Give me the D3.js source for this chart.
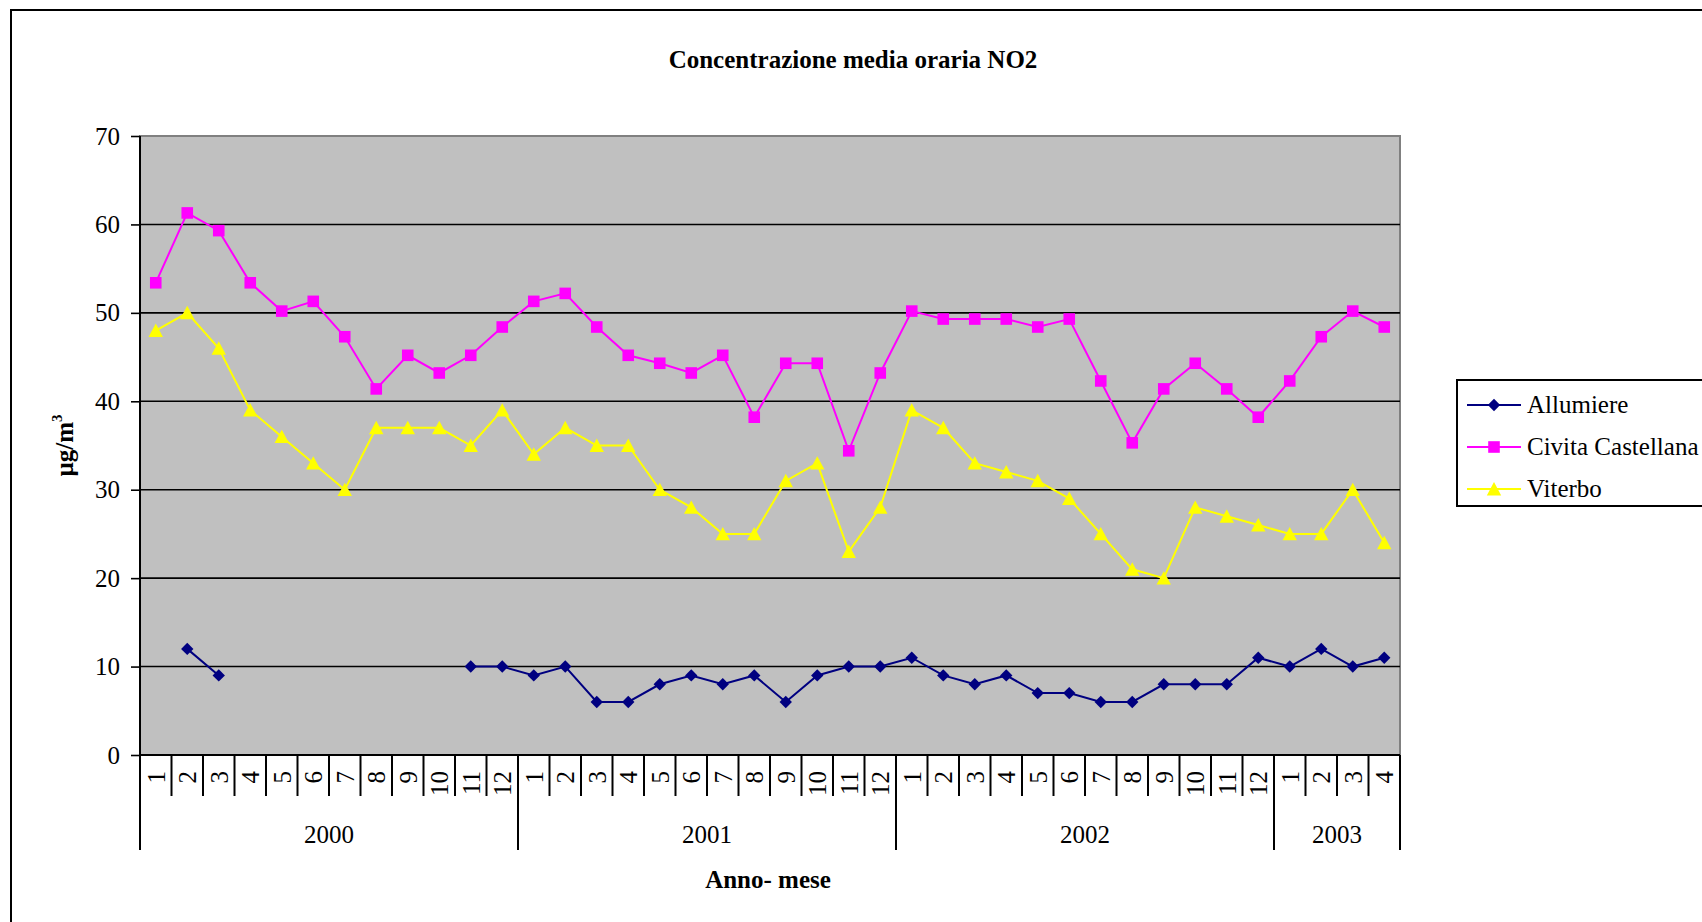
<!DOCTYPE html>
<html>
<head>
<meta charset="utf-8">
<script src="https://cdn.jsdelivr.net/npm/d3@7"></script>
<style>
  html, body { margin: 0; padding: 0; background: #fff; }
  svg { display: block; font-family: "Liberation Serif", "Times New Roman", serif; }
</style>
</head>
<body>
<svg id="chart" width="1702" height="922"></svg>
<script>
// Monthly mean hourly NO2 concentration (µg/m³), Jan 2000 – Apr 2003
const years = ["2000", "2001", "2002", "2003"];
const monthsPerYear = [12, 12, 12, 4];
const yTicks = [0, 10, 20, 30, 40, 50, 60, 70];

const allumiere = [
  null, 12, 9, null, null, null, null, null, null, null, 10, 10,
  9, 10, 6, 6, 8, 9, 8, 9, 6, 9, 10, 10,
  11, 9, 8, 9, 7, 7, 6, 6, 8, 8, 8, 11,
  10, 12, 10, 11
];
const civitaCastellana = [
  53.4, 61.3, 59.3, 53.4, 50.2, 51.3, 47.3, 41.4, 45.2, 43.2, 45.2, 48.4,
  51.3, 52.2, 48.4, 45.2, 44.3, 43.2, 45.2, 38.2, 44.3, 44.3, 34.4, 43.2,
  50.2, 49.3, 49.3, 49.3, 48.4, 49.3, 42.3, 35.3, 41.4, 44.3, 41.4, 38.2,
  42.3, 47.3, 50.2, 48.4
];
const viterbo = [
  48, 50, 46, 39, 36, 33, 30, 37, 37, 37, 35, 39,
  34, 37, 35, 35, 30, 28, 25, 25, 31, 33, 23, 28,
  39, 37, 33, 32, 31, 29, 25, 21, 20, 28, 27, 26,
  25, 25, 30, 24
];

const seriesNames = ["Allumiere", "Civita Castellana", "Viterbo"];
const seriesValues = [allumiere, civitaCastellana, viterbo];
const seriesColors = ["#000080", "#ff00ff", "#ffff00"];
const seriesMarkers = ["diamond", "square", "triangle"];

// category list: one entry per month
const categories = [];
years.forEach((yr, yi) => {
  for (let m = 1; m <= monthsPerYear[yi]; m++) categories.push({ year: yr, month: m });
});

const svg = d3.select("#chart");
const fontSize = 25;

const plot = { left: 140, right: 1400, top: 136, bottom: 755 };

const x = d3.scaleBand()
  .domain(d3.range(categories.length))
  .range([plot.left, plot.right])
  .padding(0);
const y = d3.scaleLinear().domain([0, 70]).range([plot.bottom, plot.top]);

// outer chart frame
svg.append("rect")
  .attr("x", 11).attr("y", 10)
  .attr("width", 1800).attr("height", 1000)
  .attr("fill", "#fff").attr("stroke", "#000").attr("stroke-width", 2);

// title
svg.append("text")
  .attr("x", 853).attr("y", 68)
  .attr("text-anchor", "middle")
  .attr("font-weight", "bold")
  .attr("font-size", fontSize)
  .text("Concentrazione media oraria NO2");

// plot background
svg.append("rect")
  .attr("x", plot.left).attr("y", plot.top)
  .attr("width", plot.right - plot.left).attr("height", plot.bottom - plot.top)
  .attr("fill", "#c0c0c0").attr("stroke", "#808080").attr("stroke-width", 2);

// horizontal gridlines
svg.append("g")
  .selectAll("line")
  .data(yTicks.filter(t => t > 0 && t < 70))
  .join("line")
  .attr("x1", plot.left).attr("x2", plot.right)
  .attr("y1", d => y(d)).attr("y2", d => y(d))
  .attr("stroke", "#000").attr("stroke-width", 1.6);

// y axis
const yAxis = svg.append("g")
  .attr("transform", `translate(${plot.left},0)`)
  .call(d3.axisLeft(y).tickValues(yTicks).tickSize(9).tickPadding(11).tickFormat(d3.format("d")));
yAxis.select(".domain").attr("stroke", "#000").attr("stroke-width", 2)
  .attr("d", `M0,${plot.top}V${plot.bottom}`);
yAxis.selectAll(".tick line").attr("stroke", "#000").attr("stroke-width", 1.6);
yAxis.selectAll(".tick text")
  .attr("font-size", fontSize)
  .attr("font-family", "'Liberation Serif', 'Times New Roman', serif")
  .attr("fill", "#000");

// y axis title
const yTitle = svg.append("text")
  .attr("transform", `translate(73,${(plot.top + plot.bottom) / 2}) rotate(-90)`)
  .attr("text-anchor", "middle")
  .attr("font-weight", "bold")
  .attr("font-size", fontSize);
yTitle.append("tspan").text("µg/m");
yTitle.append("tspan").attr("font-size", 15).attr("dy", -11).text("3");

// x axis line
svg.append("line")
  .attr("x1", plot.left).attr("x2", plot.right)
  .attr("y1", plot.bottom).attr("y2", plot.bottom)
  .attr("stroke", "#000").attr("stroke-width", 2);

// month separators and year separators
const boundaries = d3.range(categories.length + 1);
const yearStarts = new Set();
{
  let acc = 0;
  yearStarts.add(0);
  monthsPerYear.forEach(n => { acc += n; yearStarts.add(acc); });
}
const bandEdge = i => (i < categories.length ? x(i) : x(categories.length - 1) + x.bandwidth());
svg.append("g")
  .selectAll("line")
  .data(boundaries)
  .join("line")
  .attr("x1", d => bandEdge(d)).attr("x2", d => bandEdge(d))
  .attr("y1", plot.bottom)
  .attr("y2", d => yearStarts.has(d) ? 850 : 796)
  .attr("stroke", "#000").attr("stroke-width", 2);

// month labels (rotated)
svg.append("g")
  .selectAll("text")
  .data(categories)
  .join("text")
  .attr("transform", (d, i) => `translate(${x(i) + x.bandwidth() / 2},771) rotate(-90)`)
  .attr("dy", "0.35em")
  .attr("text-anchor", "end")
  .attr("font-size", fontSize)
  .text(d => d.month);

// year labels
{
  let acc = 0;
  const yearSpans = years.map((yr, yi) => {
    const s = acc; acc += monthsPerYear[yi];
    return { yr, x0: bandEdge(s), x1: bandEdge(acc) };
  });
  svg.append("g")
    .selectAll("text")
    .data(yearSpans)
    .join("text")
    .attr("x", d => (d.x0 + d.x1) / 2)
    .attr("y", 843)
    .attr("text-anchor", "middle")
    .attr("font-size", fontSize)
    .text(d => d.yr);
}

// x axis title
svg.append("text")
  .attr("x", (plot.left + plot.right) / 2 - 2).attr("y", 888)
  .attr("text-anchor", "middle")
  .attr("font-weight", "bold")
  .attr("font-size", fontSize)
  .text("Anno- mese");

// marker shapes
function markerPath(type) {
  if (type === "diamond") return "M0,-6.2L6.2,0L0,6.2L-6.2,0Z";
  if (type === "square") return "M-5.8,-5.8H5.8V5.8H-5.8Z";
  return "M0,-7L7.2,6.4L-7.2,6.4Z";
}

const cx = i => x(i) + x.bandwidth() / 2;

seriesValues.forEach((vals, si) => {
  const g = svg.append("g");
  const line = d3.line()
    .defined(d => d != null)
    .x((d, i) => cx(i))
    .y(d => y(d));
  g.append("path")
    .attr("d", line(vals))
    .attr("fill", "none")
    .attr("stroke", seriesColors[si])
    .attr("stroke-width", 2);
  g.selectAll("path.mk")
    .data(vals.map((v, i) => ({ v, i })).filter(d => d.v != null))
    .join("path")
    .attr("class", "mk")
    .attr("transform", d => `translate(${cx(d.i)},${y(d.v)})`)
    .attr("d", markerPath(seriesMarkers[si]))
    .attr("fill", seriesColors[si]);
});

// legend
const legend = svg.append("g");
legend.append("rect")
  .attr("x", 1457).attr("y", 380)
  .attr("width", 300).attr("height", 126)
  .attr("fill", "#fff").attr("stroke", "#000").attr("stroke-width", 2);
const legendRowY = [405, 447, 489];
seriesNames.forEach((name, si) => {
  const ry = legendRowY[si];
  legend.append("line")
    .attr("x1", 1467).attr("x2", 1521)
    .attr("y1", ry).attr("y2", ry)
    .attr("stroke", seriesColors[si]).attr("stroke-width", 2);
  legend.append("path")
    .attr("transform", `translate(1494,${ry})`)
    .attr("d", markerPath(seriesMarkers[si]))
    .attr("fill", seriesColors[si]);
  legend.append("text")
    .attr("x", 1527).attr("y", ry + 8)
    .attr("font-size", fontSize)
    .text(name);
});
</script>
</body>
</html>
